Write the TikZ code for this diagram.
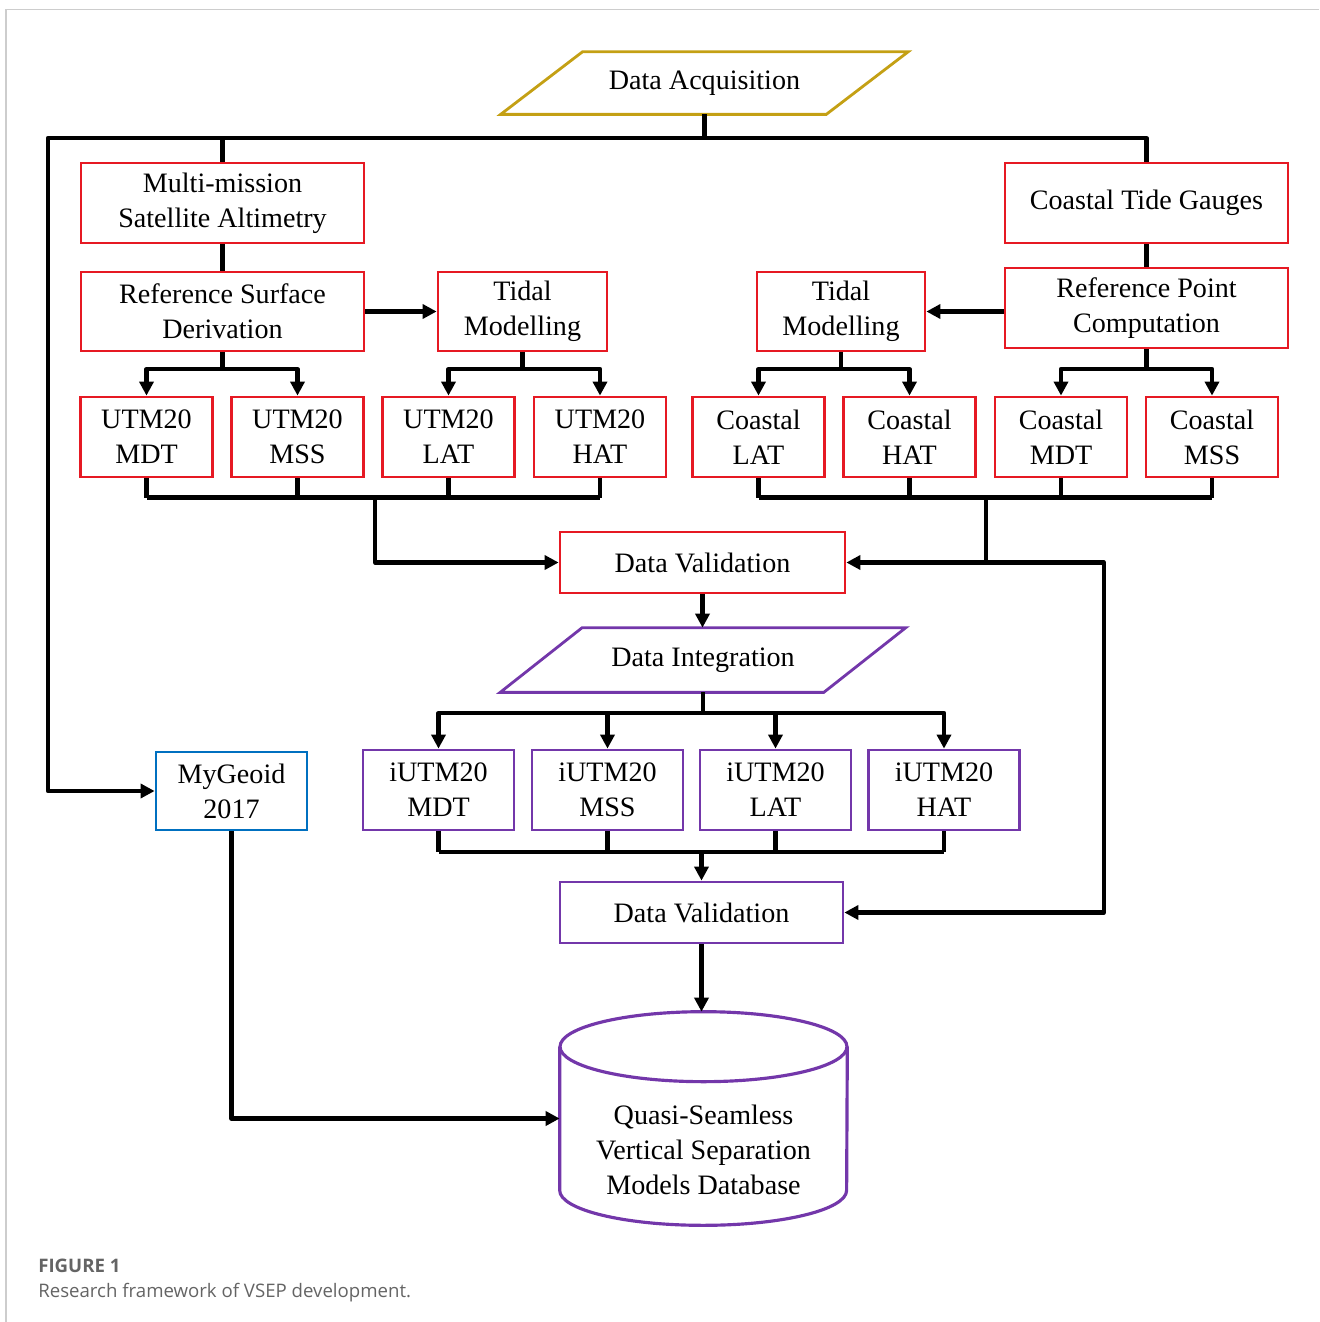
\documentclass[tikz,border=0pt]{standalone}
\usepackage{fontspec}
\setmainfont{Liberation Serif}
\newfontfamily\capfont{Open Sans}
\usetikzlibrary{arrows.meta,calc}
\definecolor{boxred}{RGB}{230,25,35}
\definecolor{intpurple}{RGB}{115,55,170}
\definecolor{geoblue}{RGB}{0,112,192}
\definecolor{acqgold}{RGB}{196,160,20}
\definecolor{framegray}{RGB}{205,205,205}
\definecolor{capgray}{RGB}{100,100,100}

\begin{document}
\begin{tikzpicture}[x=0.02cm, y=-0.02cm,
  font=\fontsize{16}{19.8}\selectfont,
  box/.style={draw=boxred, line width=1.6pt, inner sep=0pt, align=center, minimum height=1.6cm},
  cell/.style={box, minimum width=2.64cm},
  ibox/.style={box, draw=intpurple, minimum width=3.02cm},
  wire/.style={line width=2.4pt, line join=round},
  arrow/.style={wire, -{Triangle[length=8pt, width=8pt]}}]
\useasboundingbox (0,0) rectangle (1319,1322);
\draw[framegray, line width=1pt] (6,1322) -- (6,9.5) -- (1319,9.5);

\node[minimum width=6.5cm, minimum height=1.24cm, inner sep=0pt] (acq) at (704.5,83) {Data Acquisition};
\node[box, minimum width=5.66cm] (multi) at (222.5,203) {Multi-mission\\Satellite Altimetry};
\node[box, minimum width=5.66cm] (gauge) at (1146.5,203) {Coastal Tide Gauges};
\node[box, minimum width=5.66cm, minimum height=1.58cm] (rsd) at (222.5,311.5) {Reference Surface\\Derivation};
\node[box, minimum width=3.38cm, minimum height=1.58cm] (tidl) at (522.5,311.5) {Tidal\\Modelling};
\node[box, minimum width=3.36cm, minimum height=1.58cm] (tidr) at (841,311.5) {Tidal\\Modelling};
\node[box, minimum width=5.66cm] (rpc) at (1146.5,308) {Reference Point\\Computation};

\node[cell] (mdt) at (146.5,437) {UTM20\\MDT};
\node[cell] (mss) at (297.5,437) {UTM20\\MSS};
\node[cell] (lat) at (448.5,437) {UTM20\\LAT};
\node[cell] (hat) at (600,437) {UTM20\\HAT};
\node[cell] (clat) at (758.5,437) {Coastal\\LAT};
\node[cell] (chat) at (909.5,437) {Coastal\\HAT};
\node[cell] (cmdt) at (1061,437) {Coastal\\MDT};
\node[cell] (cmss) at (1212,437) {Coastal\\MSS};

\node[box, minimum width=5.7cm, minimum height=1.22cm] (dv1) at (702.5,562.5) {Data Validation};
\node[minimum width=6.46cm, minimum height=1.28cm, inner sep=0pt] (integ) at (703,660) {Data Integration};

\node[box, draw=geoblue, minimum width=3.02cm, minimum height=1.56cm] (geoid) at (231.5,791) {MyGeoid\\2017};
\node[ibox] (imdt) at (438.5,790) {iUTM20\\MDT};
\node[ibox] (imss) at (607.5,790) {iUTM20\\MSS};
\node[ibox] (ilat) at (775.5,790) {iUTM20\\LAT};
\node[ibox] (ihat) at (944,790) {iUTM20\\HAT};

\node[box, draw=intpurple, minimum width=5.66cm, minimum height=1.22cm] (dv2) at (701.5,912.5) {Data Validation};
\node[minimum width=5.74cm, minimum height=4.26cm, inner sep=0pt] (db) at (703.5,1118.5) {};
\node[align=center, inner sep=0pt] (dbtext) at (703.5,1150) {Quasi-Seamless\\Vertical Separation\\Models Database};

\foreach \p/\c in {acq/acqgold, integ/intpurple}
  \draw[draw=\c, line width=1.6pt] ($(\p.south west)+(-41,0)$) -- ($(\p.north west)+(41,0)$)
    -- ($(\p.north east)+(41,0)$) -- ($(\p.south east)+(-41,0)$) -- cycle;

\draw[intpurple, line width=1.8pt] ($(db.north west)+(0,35)$) -- ($(db.south west)+(0,-35)$)
  arc[start angle=180, end angle=360, x radius=2.87cm, y radius=0.7cm] -- ($(db.north east)+(0,35)$);
\draw[intpurple, line width=1.8pt] ($(db.north)+(0,35)$) ellipse [x radius=2.87cm, y radius=0.7cm];

\coordinate (topbus) at (acq.south |- 0,138);
\coordinate (leftrail) at (48,138);
\draw[wire] (acq.south) -- (topbus);
\draw[wire] (multi.north) |- (topbus) -| (gauge.north);
\draw[arrow] (topbus) -- (leftrail) |- (geoid.west);

\draw[wire] (multi.south) -- (rsd.north);
\draw[wire] (gauge.south) -- (rpc.north);
\draw[arrow] (rsd.east) -- (tidl.west);
\draw[arrow] (rpc.west |- tidr.east) -- (tidr.east);

\foreach \s/\a/\b in {rsd/mdt/mss, tidl/lat/hat, tidr/clat/chat, rpc/cmdt/cmss} {
  \draw[wire] (\s.south) -- (\s.south |- 0,369);
  \draw[arrow] (\s.south |- 0,369) -| (\a.north);
  \draw[arrow] (\s.south |- 0,369) -| (\b.north);
}

\coordinate (lbus) at (375,497.5);
\coordinate (rbus) at (986,497.5);
\coordinate (rrail) at (1104,562.5);
\foreach \b in {mdt,mss,lat,hat,clat,chat,cmdt,cmss}
  \draw[wire] (\b.south) -- (\b.south |- lbus);
\draw[wire] (mdt.south |- lbus) -- (hat.south |- lbus);
\draw[wire] (clat.south |- rbus) -- (cmss.south |- rbus);
\draw[arrow] (lbus) |- (dv1.west);
\draw[arrow] (rbus) |- (dv1.east);
\draw[arrow] (rbus |- dv1.east) -- (rrail) |- (dv2.east);

\draw[arrow] (dv1.south) -- (dv1.south |- integ.north);
\coordinate (ifork) at (integ.south |- 0,713);
\draw[wire] (integ.south) -- (ifork);
\foreach \b in {imdt,imss,ilat,ihat}
  \draw[arrow] (ifork) -| (\b.north);

\coordinate (ibus) at (dv2.north |- 0,852);
\foreach \b in {imdt,imss,ilat,ihat}
  \draw[wire] (\b.south) -- (\b.south |- ibus);
\draw[wire] (imdt.south |- ibus) -- (ihat.south |- ibus);
\draw[arrow] (ibus) -- (dv2.north);

\draw[arrow] (dv2.south) -- (dv2.south |- db.north);
\draw[arrow] (geoid.south) |- (db.west);

\node[anchor=base west, inner sep=0pt, text=capgray, font=\capfont\fontsize{10.6}{12}\selectfont\bfseries] (figno) at (38,1272) {FIGURE 1};
\node[anchor=base west, inner sep=0pt, text=capgray, font=\capfont\fontsize{10.6}{12}\selectfont] (figcap) at (38,1297) {Research framework of VSEP development.};
\end{tikzpicture}
\end{document}
